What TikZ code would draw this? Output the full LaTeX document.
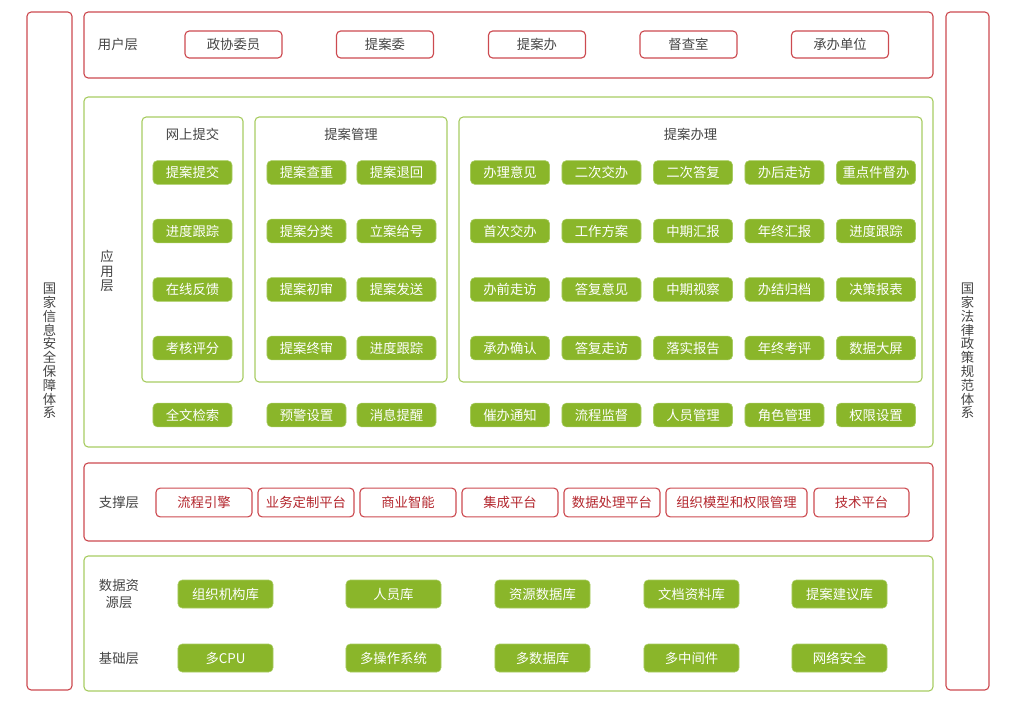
\documentclass[tikz,border=0pt]{standalone}
\usepackage{fontspec}
\setmainfont{Noto Sans CJK SC}
\definecolor{redline}{HTML}{CC4A50}
\definecolor{redtext}{HTML}{B3262D}
\definecolor{greenfill}{HTML}{8AB62A}
\definecolor{greenline}{HTML}{A8CC62}
\definecolor{graytext}{HTML}{444444}
\begin{document}
\begin{tikzpicture}[x=0.025cm,y=-0.025cm]
\tikzstyle{every node}+=[inner sep=0pt,font=\fontsize{9.5pt}{11pt}\selectfont]
\tikzstyle{redbox}=[draw=redline,line width=0.8pt,rounded corners=3pt]
\tikzstyle{greenbox}=[draw=greenline,line width=0.8pt,rounded corners=3pt]
\tikzstyle{layertitle}=[text=graytext,align=center]
\tikzstyle{coltext}=[text=graytext,align=center,font=\fontsize{9.5pt}{9.8pt}\selectfont]
\tikzstyle{usernode}=[draw=redline,line width=0.8pt,rounded corners=3pt,text=graytext,minimum width=2.425cm,minimum height=0.675cm]
\tikzstyle{supnode}=[draw=redline,line width=0.8pt,rounded corners=3pt,text=redtext,minimum width=2.4cm,minimum height=0.72cm]
\tikzstyle{appnode}=[fill=greenfill,draw=greenline,line width=0.4pt,rounded corners=3pt,text=white,minimum width=1.975cm,minimum height=0.59cm]
\tikzstyle{datanode}=[fill=greenfill,draw=greenline,line width=0.4pt,rounded corners=3pt,text=white,minimum width=2.375cm,minimum height=0.7cm]
\useasboundingbox (0,0) rectangle (1028,705);
\draw [redbox] (27,12) rectangle (72,690);
\node [coltext] (leftcol) at (49.5,351) {国\\家\\信\\息\\安\\全\\保\\障\\体\\系};
\draw [redbox] (946,12) rectangle (989,690);
\node [coltext] (rightcol) at (967.5,351) {国\\家\\法\\律\\政\\策\\规\\范\\体\\系};
\draw [redbox] (84,12) rectangle (933,78);
\node [layertitle] (userlabel) at (118,44.5) {用户层};
\node [usernode] (u1) at (233.5,44.5) {政协委员};
\node [usernode] (u2) at (385,44.5) {提案委};
\node [usernode] (u3) at (537,44.5) {提案办};
\node [usernode] (u4) at (688.5,44.5) {督查室};
\node [usernode] (u5) at (840,44.5) {承办单位};
\draw [greenbox] (84,97) rectangle (933,447);
\node [layertitle,font=\fontsize{9.5pt}{10.6pt}\selectfont] (applabel) at (107,271) {应\\用\\层};
\draw [greenbox] (142,117) rectangle (243,382);
\node [layertitle] (subtitle1) at (192.5,134.5) {网上提交};
\draw [greenbox] (255,117) rectangle (447,382);
\node [layertitle] (subtitle2) at (351,134.5) {提案管理};
\draw [greenbox] (459,117) rectangle (922,382);
\node [layertitle] (subtitle3) at (690.5,134.5) {提案办理};
\node [appnode] (a11) at (192.5,172.5) {提案提交};
\node [appnode] (a12) at (192.5,231) {进度跟踪};
\node [appnode] (a13) at (192.5,289.5) {在线反馈};
\node [appnode] (a14) at (192.5,348) {考核评分};
\node [appnode] (a15) at (192.5,415) {全文检索};
\node [appnode] (b11) at (306.5,172.5) {提案查重};
\node [appnode] (b12) at (396.5,172.5) {提案退回};
\node [appnode] (b21) at (306.5,231) {提案分类};
\node [appnode] (b22) at (396.5,231) {立案给号};
\node [appnode] (b31) at (306.5,289.5) {提案初审};
\node [appnode] (b32) at (396.5,289.5) {提案发送};
\node [appnode] (b41) at (306.5,348) {提案终审};
\node [appnode] (b42) at (396.5,348) {进度跟踪};
\node [appnode] (b51) at (306.5,415) {预警设置};
\node [appnode] (b52) at (396.5,415) {消息提醒};
\node [appnode] (c11) at (510,172.5) {办理意见};
\node [appnode] (c12) at (601.5,172.5) {二次交办};
\node [appnode] (c13) at (693,172.5) {二次答复};
\node [appnode] (c14) at (784.5,172.5) {办后走访};
\node [appnode] (c15) at (876,172.5) {重点件督办};
\node [appnode] (c21) at (510,231) {首次交办};
\node [appnode] (c22) at (601.5,231) {工作方案};
\node [appnode] (c23) at (693,231) {中期汇报};
\node [appnode] (c24) at (784.5,231) {年终汇报};
\node [appnode] (c25) at (876,231) {进度跟踪};
\node [appnode] (c31) at (510,289.5) {办前走访};
\node [appnode] (c32) at (601.5,289.5) {答复意见};
\node [appnode] (c33) at (693,289.5) {中期视察};
\node [appnode] (c34) at (784.5,289.5) {办结归档};
\node [appnode] (c35) at (876,289.5) {决策报表};
\node [appnode] (c41) at (510,348) {承办确认};
\node [appnode] (c42) at (601.5,348) {答复走访};
\node [appnode] (c43) at (693,348) {落实报告};
\node [appnode] (c44) at (784.5,348) {年终考评};
\node [appnode] (c45) at (876,348) {数据大屏};
\node [appnode] (c51) at (510,415) {催办通知};
\node [appnode] (c52) at (601.5,415) {流程监督};
\node [appnode] (c53) at (693,415) {人员管理};
\node [appnode] (c54) at (784.5,415) {角色管理};
\node [appnode] (c55) at (876,415) {权限设置};
\draw [redbox] (84,463) rectangle (933,541);
\node [layertitle] (suplabel) at (119,502) {支撑层};
\node [supnode] (s1) at (204,502.5) {流程引擎};
\node [supnode] (s2) at (306,502.5) {业务定制平台};
\node [supnode] (s3) at (408,502.5) {商业智能};
\node [supnode] (s4) at (510,502.5) {集成平台};
\node [supnode] (s5) at (612,502.5) {数据处理平台};
\node [supnode,minimum width=3.525cm] (s6) at (736.5,502.5) {组织模型和权限管理};
\node [supnode,minimum width=2.375cm] (s7) at (861.5,502.5) {技术平台};
\draw [greenbox] (84,556) rectangle (933,691);
\node [layertitle,font=\fontsize{9.5pt}{12.7pt}\selectfont] (datalabel) at (119,594) {数据资\\源层};
\node [layertitle] (baselabel) at (119,658) {基础层};
\node [datanode] (d11) at (225.5,594) {组织机构库};
\node [datanode] (d12) at (393.5,594) {人员库};
\node [datanode] (d13) at (542.5,594) {资源数据库};
\node [datanode] (d14) at (691.5,594) {文档资料库};
\node [datanode] (d15) at (839.5,594) {提案建议库};
\node [datanode] (d21) at (225.5,658) {多CPU};
\node [datanode] (d22) at (393.5,658) {多操作系统};
\node [datanode] (d23) at (542.5,658) {多数据库};
\node [datanode] (d24) at (691.5,658) {多中间件};
\node [datanode] (d25) at (839.5,658) {网络安全};
\end{tikzpicture}
\end{document}
